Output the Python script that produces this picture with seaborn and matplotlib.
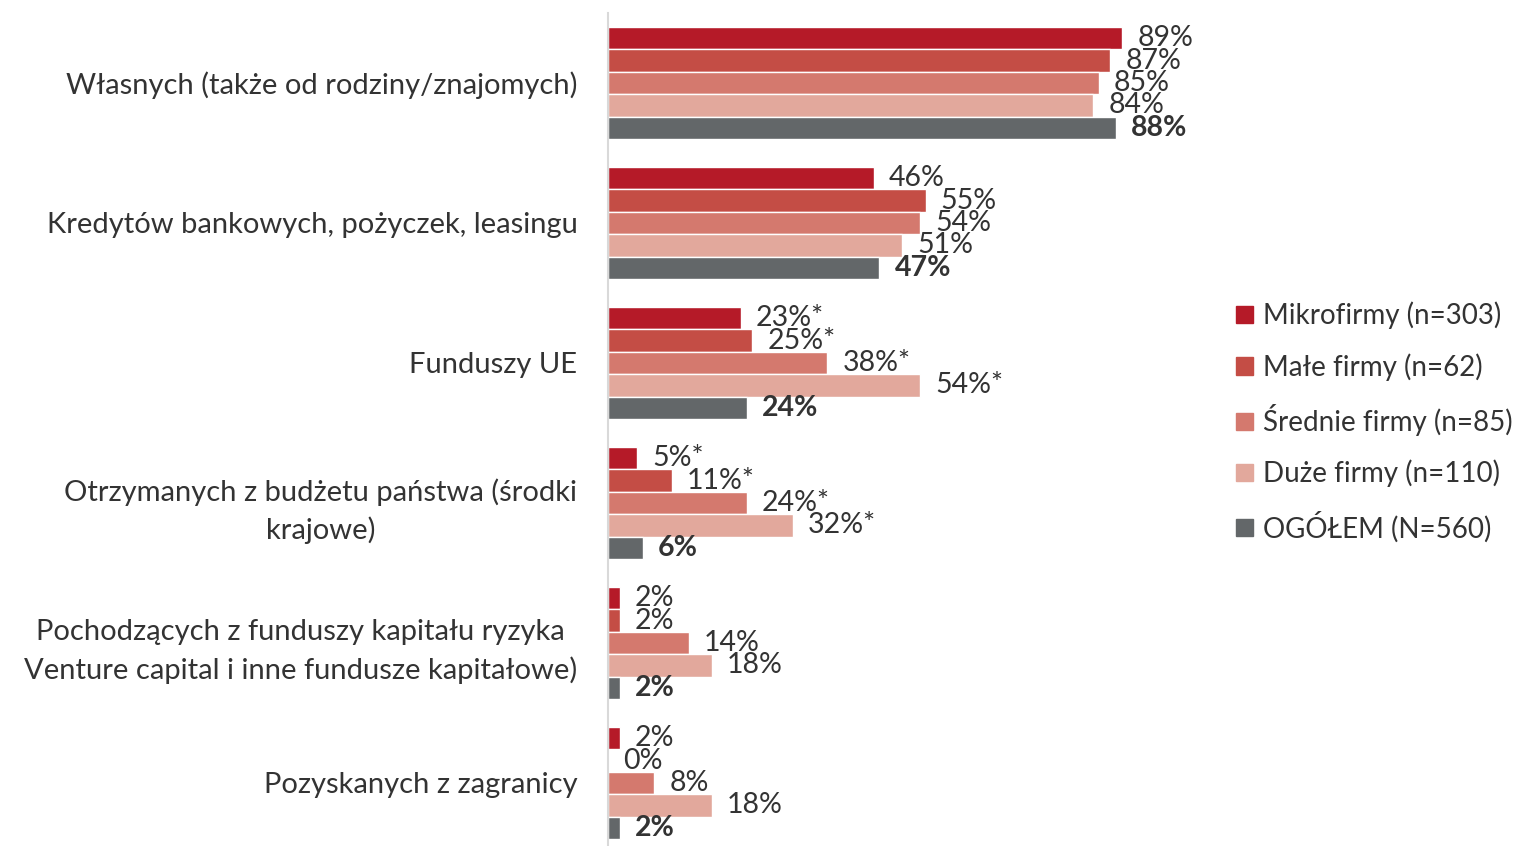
import matplotlib
matplotlib.use("Agg")
import matplotlib.pyplot as plt
import pandas as pd
import seaborn as sns

sns.set_style("white")
plt.rcParams['font.family'] = ['Lato', 'DejaVu Sans']

categories = [
    "Własnych (także od rodziny/znajomych)",
    "Kredytów bankowych, pożyczek, leasingu",
    "Funduszy UE",
    "Otrzymanych z budżetu państwa (środki\nkrajowe)",
    "Pochodzących z funduszy kapitału ryzyka\nVenture capital i inne fundusze kapitałowe)",
    "Pozyskanych z zagranicy",
]
series = ["Mikrofirmy (n=303)", "Małe firmy (n=62)", "Średnie firmy (n=85)",
          "Duże firmy (n=110)", "OGÓŁEM (N=560)"]
mikro = [89, 46, 23, 5, 2, 2]
male = [87, 55, 25, 11, 2, 0]
srednie = [85, 54, 38, 24, 14, 8]
duze = [84, 51, 54, 32, 18, 18]
ogolem = [88, 47, 24, 6, 2, 2]
# categories whose firm-size values are marked with an asterisk
starred = ["Funduszy UE", "Otrzymanych z budżetu państwa (środki\nkrajowe)"]

colors = ["#B51A28", "#C44D45", "#D4796E", "#E2A89C", "#636769"]

rows = []
for name, vals in zip(series, [mikro, male, srednie, duze, ogolem]):
    for cat, v in zip(categories, vals):
        rows.append({"cat": cat, "series": name, "val": v})
df = pd.DataFrame(rows)

fig = plt.figure(figsize=(15.31, 8.46), dpi=100)
ax = fig.add_axes([608 / 1531, 0, 612 / 1531, 833 / 846])

sns.barplot(data=df, x="val", y="cat", hue="series", order=categories,
            hue_order=series, palette=colors, saturation=1, orient="h",
            width=0.8, edgecolor="white", linewidth=1, ax=ax)

for i, cont in enumerate(ax.containers):
    vals = [mikro, male, srednie, duze, ogolem][i]
    labels = []
    for cat, v in zip(categories, vals):
        s = f"{v}%"
        if i < 4 and cat in starred:
            s += "*"
        labels.append(s)
    ax.bar_label(cont, labels=labels, padding=11, fontsize=20.5,
                 color="#333333",
                 fontweight="bold" if i == 4 else "normal")

ax.set_xlim(0, 106)
ax.set_ylim(-0.5 + 833 / 140, -0.5)
ax.set_xlabel("")
ax.set_ylabel("")
ax.set_xticks([])
ax.tick_params(axis="y", length=0, pad=22, labelsize=21, labelcolor="#333333")
for t in ax.get_yticklabels():
    t.set_multialignment("center")
    t.set_linespacing(1.5)

for s in ["top", "right", "bottom"]:
    ax.spines[s].set_visible(False)
ax.spines["left"].set_color("#D9D9D9")
ax.spines["left"].set_linewidth(1.5)

ax.get_legend().remove()
handles = [plt.Rectangle((0, 0), 1, 1, color=c) for c in colors]
fig.legend(handles, series, loc="center left", bbox_to_anchor=(1228 / 1531, 1 - 422 / 846),
           frameon=False, fontsize=20, handlelength=0.6, handleheight=0.6,
           handletextpad=0.35, labelspacing=0.85, labelcolor="#333333",
           borderaxespad=0, borderpad=0.3)

fig.savefig("out.png", dpi=100)
